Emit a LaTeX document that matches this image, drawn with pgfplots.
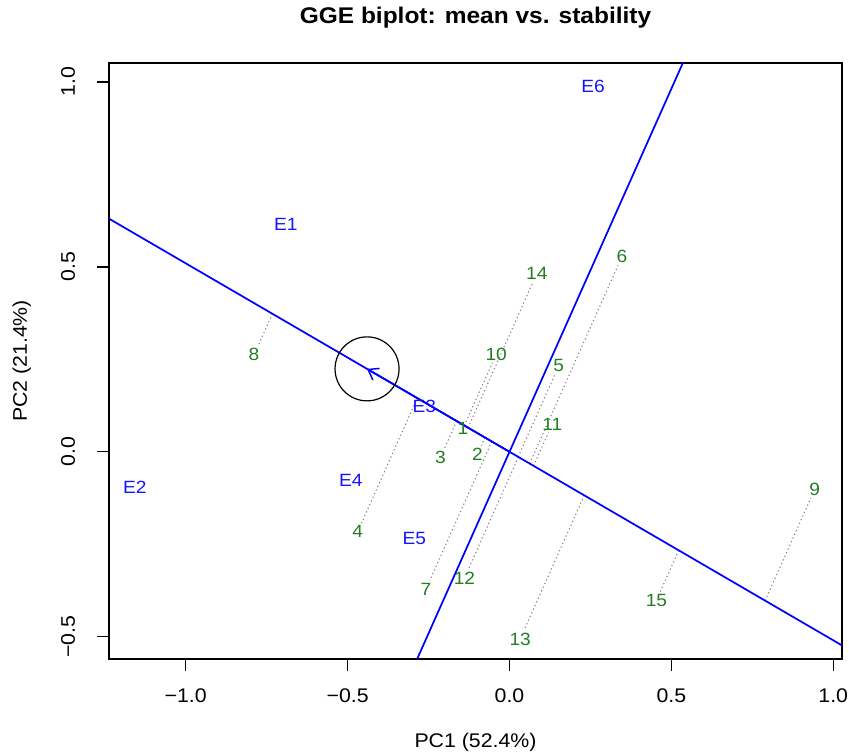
\documentclass[border=0pt]{standalone}
\usepackage{pgfplots}
\pgfplotsset{compat=1.18}
\usepackage{pgfplotstable}
\usepackage{fontspec}
\setmainfont{Liberation Sans}[FakeStretch=1.08]
\usetikzlibrary{arrows.meta}
\definecolor{gcol}{RGB}{35,125,35}
\definecolor{ecol}{RGB}{20,20,255}
\pgfplotstableread{
lab x y
1 -0.144 0.064
2 -0.099 -0.006
3 -0.213 -0.015
4 -0.469 -0.216
5 0.152 0.232
6 0.347 0.527
7 -0.258 -0.371
8 -0.789 0.262
9 0.943 -0.101
10 -0.041 0.264
11 0.132 0.075
12 -0.139 -0.341
13 0.033 -0.506
14 0.0845 0.482
15 0.454 -0.401
}\genotypes
\pgfplotstableread{
lab x y
E1 -0.691 0.615
E2 -1.157 -0.095
E3 -0.263 0.124
E4 -0.490 -0.077
E5 -0.294 -0.233
E6 0.258 0.989
}\environments
\pgfplotsset{
 every axis title/.style={at={(0.5,1.066)},anchor=base},
 every axis x label/.style={at={(0.5,-0.1481)},anchor=base},
 every axis y label/.style={at={(-0.1122,0.5)},rotate=90,anchor=base},
}
\begin{document}
\begin{tikzpicture}
\useasboundingbox (-81.75pt,-72pt) rectangle (555pt,494.25pt);
\begin{axis}[
 at={(0,0)}, anchor=south west, scale only axis,
 width=549.75pt, height=447pt,
 xmin=-1.237, xmax=1.027, ymin=-0.56, ymax=1.051,
 xtick={-1,-0.5,0,0.5,1}, xticklabels={−1.0,−0.5,0.0,0.5,1.0},
 ytick={-0.5,0,0.5,1}, yticklabels={−0.5,0.0,0.5,1.0},
 tick pos=left, tick align=outside, major tick length=9pt,
 minor tick num=0,
 axis line style={line width=1pt},
 every tick/.style={black, line width=1pt},
 tick label style={font=\fontsize{14.8}{17}\selectfont},
 xticklabel style={anchor=base, yshift=-24pt},
 yticklabel style={xshift=-16.5pt, rotate=90, anchor=base},
 title={GGE biplot: mean vs. stability},
 title style={font=\bfseries\fontsize{17}{20}\selectfont},
 xlabel={PC1 (52.4\%)}, ylabel={PC2 (21.4\%)},
 label style={font=\fontsize{14.8}{17}\selectfont},
]
% dotted projections
\pgfplotsset{proj/.style={gray, line width=0.8pt, dash pattern=on 0.9pt off 2.1pt, shorten >=7pt}}
\addplot[proj] coordinates {(-0.0762,0.0388) (-0.099,-0.006)};
\addplot[proj] coordinates {(-0.1631,0.0831) (-0.213,-0.015)};
\addplot[proj] coordinates {(-0.2849,0.1452) (-0.469,-0.216)};
\addplot[proj] coordinates {(0.0268,-0.0137) (0.152,0.232)};
\addplot[proj] coordinates {(0.0623,-0.0317) (0.347,0.527)};
\addplot[proj] coordinates {(-0.0548,0.0279) (-0.258,-0.371)};
\addplot[proj] coordinates {(-0.7323,0.3731) (-0.789,0.262)};
\addplot[proj] coordinates {(0.7895,-0.4023) (0.943,-0.101)};
\addplot[proj] coordinates {(-0.1394,0.0710) (-0.041,0.264)};
\addplot[proj] coordinates {(0.0744,-0.0379) (0.132,0.075)};
\addplot[proj] coordinates {(0.0276,-0.0141) (-0.139,-0.341)};
\addplot[proj] coordinates {(0.2309,-0.1176) (0.033,-0.506)};
\addplot[proj] coordinates {(-0.1279,0.0651) (0.0845,0.482)};
\addplot[proj] coordinates {(0.5227,-0.2663) (0.454,-0.401)};
% average environment axis and its perpendicular
\addplot[blue, line width=1.3pt] coordinates {(-1.5,0.76425) (1.5,-0.76425)};
\addplot[blue, line width=1.3pt] coordinates {(-0.4,-0.7852) (0.6,1.1778)};
\addplot[blue, line width=1.3pt, -{Straight Barb[length=7pt,width=10pt,line width=1.1pt]}] coordinates {(0,0) (-0.44,0.2242)};
% average environment circle
\addplot[only marks, mark=o, mark size=24pt, mark options={black, line width=0.9pt}] coordinates {(-0.44,0.2242)};
% labels
\addplot[draw=none, mark=none, nodes near coords, point meta=explicit symbolic,
 nodes near coords style={anchor=center, text=gcol, font=\fontsize{13.3}{15}\selectfont}]
 table[x=x, y=y, meta=lab] {\genotypes};
\addplot[draw=none, mark=none, nodes near coords, point meta=explicit symbolic,
 nodes near coords style={anchor=center, text=ecol, font=\fontsize{13.3}{15}\selectfont}]
 table[x=x, y=y, meta=lab] {\environments};
\end{axis}
\end{tikzpicture}
\end{document}
